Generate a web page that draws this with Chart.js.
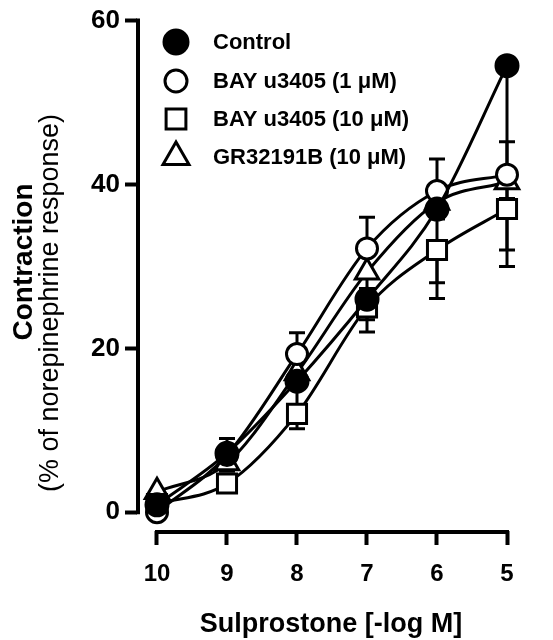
<!DOCTYPE html>
<html>
<head>
<meta charset="utf-8">
<script src="https://cdn.jsdelivr.net/npm/chart.js@4.4.1/dist/chart.umd.min.js"></script>
<style>
  html, body { margin: 0; padding: 0; background: #fff; }
  #wrap { width: 553px; height: 640px; }
</style>
</head>
<body>
<div id="wrap"><canvas id="chart" width="553" height="640"></canvas></div>
<script>
// sulprostone dose, -log M
const doses = [10, 9, 8, 7, 6, 5];
const xTicks = [10, 9, 8, 7, 6, 5];
const yTicks = [0, 20, 40, 60];

// contraction, % of norepinephrine response
const control = [0.9, 7.2, 16, 26, 37, 54.5];
const bay1 = [0, 7, 19.3, 32.2, 39.2, 41.2];
const bay10 = [1, 3.5, 12, 25, 32, 37];
const gr = [2.5, 6, 17, 29.3, 37.8, 40.3];

// SEM (one sided, like the original)
const controlErr = [0.5, 1.5, 3, 4, 9, 24.5];
const bay1Err = [0.5, 2, 2.6, 3.8, 3.9, 4];
const bay10Err = [0.5, 1.1, 1.8, 1.5, 5.9, 5];
const grErr = [0.5, 1, 1.5, 2, 2, 2];

const FONT = "'Liberation Sans', Arial, Helvetica, sans-serif";

function pts(ys) {
    return doses.map((d, i) => ({ x: d, y: ys[i] }));
}

function drawMarker(ctx, style, r, x, y, fill) {
    ctx.save();
    ctx.lineWidth = 3;
    ctx.strokeStyle = '#000';
    ctx.fillStyle = fill;
    ctx.beginPath();
    if (style === 'circle') {
        ctx.arc(x, y, r, 0, Math.PI * 2);
    } else if (style === 'rect') {
        const s = r * Math.SQRT1_2;
        ctx.rect(x - s, y - s, 2 * s, 2 * s);
    } else if (style === 'triangle') {
        for (let k = 0; k < 3; k++) {
            const a = k * 2 * Math.PI / 3;
            const px = x + Math.sin(a) * r, py = y - Math.cos(a) * r;
            if (k === 0) ctx.moveTo(px, py); else ctx.lineTo(px, py);
        }
        ctx.closePath();
    }
    ctx.fill();
    ctx.stroke();
    ctx.restore();
}

const series = [
    { label: 'Control', data: control, err: controlErr, dir: -1, style: 'circle', r: 11, fill: '#000' },
    { label: 'BAY u3405 (1 μM)', data: bay1, err: bay1Err, dir: 1, style: 'circle', r: 10.5, fill: '#fff' },
    { label: 'BAY u3405 (10 μM)', data: bay10, err: bay10Err, dir: -1, style: 'rect', r: 13.5, fill: '#fff' },
    { label: 'GR32191B (10 μM)', data: gr, err: grErr, dir: -1, style: 'triangle', r: 13.5, fill: '#fff' }
];

// axes, error bars, titles and legend
const decor = {
    id: 'decor',
    beforeDatasetsDraw(chart) {
        const ctx = chart.ctx;
        const xs = chart.scales.x, ys = chart.scales.y;
        ctx.save();
        ctx.strokeStyle = '#000';
        ctx.lineCap = 'butt';
        // offset axis lines
        ctx.lineWidth = 4;
        ctx.beginPath();
        const ax = chart.chartArea.left + 1;
        ctx.moveTo(ax, ys.getPixelForValue(60) - 2);
        ctx.lineTo(ax, ys.getPixelForValue(0) + 2);
        const ay = chart.chartArea.bottom + 1;
        ctx.moveTo(xs.getPixelForValue(10) - 2, ay);
        ctx.lineTo(xs.getPixelForValue(5) + 2, ay);
        ctx.stroke();

        // error bars
        ctx.lineWidth = 3;
        series.forEach(s => {
            s.data.forEach((v, i) => {
                const x = xs.getPixelForValue(doses[i]);
                const y0 = ys.getPixelForValue(v);
                const y1 = ys.getPixelForValue(v + s.dir * s.err[i]);
                ctx.beginPath();
                ctx.moveTo(x, y0);
                ctx.lineTo(x, y1);
                ctx.moveTo(x - 8, y1);
                ctx.lineTo(x + 8, y1);
                ctx.stroke();
            });
        });
        ctx.restore();
    },
    afterDraw(chart) {
        const ctx = chart.ctx;
        ctx.save();
        ctx.fillStyle = '#000';

        // x title
        ctx.font = 'bold 27px ' + FONT;
        ctx.textAlign = 'center';
        ctx.textBaseline = 'alphabetic';
        ctx.fillText('Sulprostone [-log M]', 331, 632);

        // y titles
        ctx.save();
        ctx.translate(32, 262);
        ctx.rotate(-Math.PI / 2);
        ctx.font = 'bold 28px ' + FONT;
        ctx.fillText('Contraction', 0, 0);
        ctx.restore();
        ctx.save();
        ctx.translate(58, 303);
        ctx.rotate(-Math.PI / 2);
        ctx.font = '27px ' + FONT;
        ctx.fillText('(% of norepinephrine response)', 0, 0);
        ctx.restore();

        // legend
        const rows = [42, 81, 119, 157];
        const legR = [12, 11, 14, 15];
        ctx.font = 'bold 22px ' + FONT;
        ctx.textAlign = 'left';
        ctx.textBaseline = 'middle';
        series.forEach((s, i) => {
            drawMarker(ctx, s.style, legR[i], 176, rows[i], s.fill);
            ctx.fillStyle = '#000';
            ctx.fillText(s.label, 213, rows[i] + 1);
        });
        ctx.restore();
    }
};

const ctx = document.getElementById('chart').getContext('2d');
new Chart(ctx, {
    type: 'line',
    data: {
        datasets: series.map(s => ({
            label: s.label,
            data: pts(s.data),
            borderColor: '#000',
            borderWidth: 3,
            pointStyle: s.style,
            pointRadius: s.r,
            pointBorderWidth: 3,
            pointBackgroundColor: s.fill,
            pointBorderColor: '#000',
            cubicInterpolationMode: 'monotone',
            fill: false,
            clip: false
        }))
    },
    options: {
        responsive: false,
        devicePixelRatio: 1,
        animation: false,
        layout: { padding: { left: 0, right: 46, top: 14, bottom: 0 } },
        plugins: { legend: { display: false }, tooltip: { enabled: false } },
        scales: {
            x: {
                type: 'linear',
                reverse: true,
                min: 5,
                max: 10.2857,
                afterBuildTicks: s => { s.ticks = xTicks.map(v => ({ value: v })); },
                afterFit: s => { s.height = 109; },
                border: { display: false },
                grid: { drawOnChartArea: false, drawTicks: true, tickLength: 14, tickWidth: 4, color: '#000' },
                ticks: {
                    color: '#000',
                    padding: 15,
                    maxRotation: 0,
                    autoSkip: false,
                    font: { family: FONT, size: 24, weight: 'bold' }
                }
            },
            y: {
                type: 'linear',
                min: -2.289,
                max: 60,
                afterBuildTicks: s => { s.ticks = yTicks.map(v => ({ value: v })); },
                afterFit: s => { s.width = 137; },
                border: { display: false },
                grid: { drawOnChartArea: false, drawTicks: true, tickLength: 12, tickWidth: 4, color: '#000' },
                ticks: {
                    color: '#000',
                    padding: 5,
                    font: { family: FONT, size: 26, weight: 'bold' }
                }
            }
        }
    },
    plugins: [decor]
});
</script>
</body>
</html>
